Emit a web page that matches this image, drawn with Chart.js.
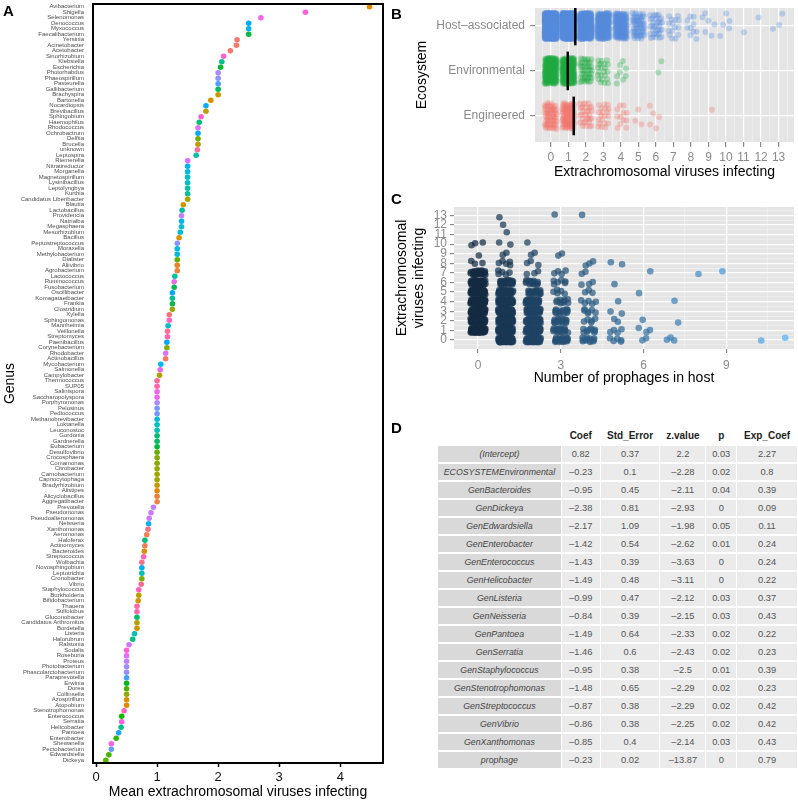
<!DOCTYPE html>
<html>
<head>
<meta charset="utf-8">
<script src="https://cdn.jsdelivr.net/npm/chart.js@4.4.1/dist/chart.umd.min.js"></script>
<style>
  body { margin: 0; background: #fff; font-family: "Liberation Sans", Arial, sans-serif; }
  #page { position: relative; width: 798px; height: 801px; overflow: hidden; }
  canvas { position: absolute; }
  .tag { position: absolute; font-weight: bold; font-size: 15px; line-height: 15px; color: #000; }
  #coefTable { position: absolute; left: 437px; top: 426px; border-collapse: separate; border-spacing: 1px 2px; font-size: 9.3px; }
  #coefTable td, #coefTable th { height: 16px; line-height: 16px; padding: 0; text-align: center; white-space: nowrap; overflow: hidden; }
  #coefTable th { font-weight: bold; color: #222; font-size: 10px; background: #fff; }
  #coefTable td { background: #ebebeb; color: #555; }
  #coefTable td.name { background: #d9d9d9; font-style: italic; color: #444; font-size: 8.8px; }
</style>
</head>
<body>
<div id="page">
  <canvas id="chartA" width="390" height="801" style="left:0;top:0"></canvas>
  <canvas id="chartB" width="413" height="185" style="left:385px;top:0"></canvas>
  <canvas id="chartC" width="413" height="207" style="left:385px;top:185px"></canvas>
  <div class="tag" style="left:3px;top:3px">A</div>
  <div class="tag" style="left:391px;top:6px">B</div>
  <div class="tag" style="left:391px;top:191px">C</div>
  <div class="tag" style="left:391px;top:420px">D</div>
  <table id="coefTable"></table>
</div>
<script>
// ---- Panel A: mean extrachromosomal viruses per genus (top to bottom)
const genera = [
  "Avibacterium", "Shigella", "Selenomonas", "Oenococcus", "Myxococcus", "Faecalibacterium",
  "Yersinia", "Acinetobacter", "Acetobacter", "Sinorhizobium", "Klebsiella", "Escherichia",
  "Photorhabdus", "Phaeospirillum", "Pasteurella", "Gallibacterium", "Brachyspira", "Bartonella",
  "Nocardiopsis", "Brevibacillus", "Sphingobium", "Haemophilus", "Rhodococcus", "Ochrobactrum",
  "Delftia", "Brucella", "unknown", "Leptospira", "Riemerella", "Nitratireductor",
  "Morganella", "Magnetospirillum", "Lysinibacillus", "Leptolyngbya", "Kurthia", "Candidatus Liberibacter",
  "Blautia", "Lactobacillus", "Providencia", "Natrialba", "Megasphaera", "Mesorhizobium",
  "Bacillus", "Peptostreptococcus", "Moraxella", "Methylobacterium", "Dialister", "Aliivibrio",
  "Agrobacterium", "Lactococcus", "Ruminococcus", "Fusobacterium", "Oscillibacter", "Komagataeibacter",
  "Frankia", "Clostridium", "Xylella", "Sphingomonas", "Mannheimia", "Veillonella",
  "Streptomyces", "Paenibacillus", "Corynebacterium", "Rhodobacter", "Actinobacillus", "Mycobacterium",
  "Salmonella", "Campylobacter", "Thermococcus", "SUP05", "Salinispora", "Saccharopolyspora",
  "Porphyromonas", "Pelosinus", "Pediococcus", "Methanobrevibacter", "Loktanella", "Leuconostoc",
  "Gordonia", "Gardnerella", "Eubacterium", "Desulfovibrio", "Crocosphaera", "Comamonas",
  "Citrobacter", "Carnobacterium", "Capnocytophaga", "Bradyrhizobium", "Alistipes", "Alicyclobacillus",
  "Aggregatibacter", "Prevotella", "Pseudomonas", "Pseudoalteromonas", "Neisseria", "Xanthomonas",
  "Aeromonas", "Haloferax", "Actinomyces", "Bacteroides", "Streptococcus", "Wolbachia",
  "Novosphingobium", "Leptotrichia", "Cronobacter", "Vibrio", "Staphylococcus", "Burkholderia",
  "Bifidobacterium", "Thauera", "Sulfolobus", "Gluconobacter", "Candidatus Arthromitus", "Bordetella",
  "Listeria", "Halorubrum", "Ralstonia", "Sodalis", "Roseburia", "Proteus",
  "Photobacterium", "Phascolarctobacterium", "Paraprevotella", "Erwinia", "Dorea", "Collinsella",
  "Azospirillum", "Atopobium", "Stenotrophomonas", "Enterococcus", "Serratia", "Helicobacter",
  "Pantoea", "Enterobacter", "Shewanella", "Pectobacterium", "Edwardsiella", "Dickeya"
];
const meanViruses = [
  4.48, 3.43, 2.70, 2.50, 2.50, 2.50,
  2.31, 2.30, 2.20, 2.09, 2.06, 2.04,
  2.00, 2.00, 2.00, 2.00, 2.00, 1.88,
  1.80, 1.80, 1.72, 1.69, 1.67, 1.67,
  1.67, 1.67, 1.66, 1.64, 1.50, 1.50,
  1.50, 1.50, 1.50, 1.50, 1.50, 1.50,
  1.43, 1.41, 1.40, 1.40, 1.40, 1.38,
  1.36, 1.33, 1.33, 1.33, 1.33, 1.33,
  1.33, 1.29, 1.28, 1.28, 1.25, 1.25,
  1.25, 1.25, 1.20, 1.20, 1.18, 1.17,
  1.17, 1.16, 1.16, 1.14, 1.14, 1.06,
  1.05, 1.04, 1.00, 1.00, 1.00, 1.00,
  1.00, 1.00, 1.00, 1.00, 1.00, 1.00,
  1.00, 1.00, 1.00, 1.00, 1.00, 1.00,
  1.00, 1.00, 1.00, 1.00, 1.00, 1.00,
  1.00, 0.94, 0.90, 0.87, 0.86, 0.85,
  0.83, 0.80, 0.80, 0.79, 0.78, 0.75,
  0.75, 0.75, 0.75, 0.74, 0.70, 0.70,
  0.69, 0.67, 0.67, 0.67, 0.67, 0.67,
  0.63, 0.60, 0.54, 0.50, 0.50, 0.50,
  0.50, 0.50, 0.50, 0.50, 0.50, 0.50,
  0.50, 0.50, 0.46, 0.42, 0.42, 0.41,
  0.37, 0.33, 0.25, 0.25, 0.21, 0.16
];
const meanTicks = [0, 1, 2, 3, 4];

// ---- Panel B: viruses per genome by ecosystem
const ecosystems = ["Engineered", "Environmental", "Host–associated"];
const virusValues = [0, 1, 2, 3, 4, 5, 6, 7, 8, 9, 10, 11, 12, 13];
const engineeredCounts = [60, 80, 30, 20, 12, 3, 5, 0, 0, 1, 0, 0, 0, 0];
const environmentalCounts = [220, 250, 45, 22, 8, 0, 2, 0, 0, 0, 0, 0, 0, 0];
const hostCounts = [900, 800, 400, 250, 150, 60, 35, 15, 10, 6, 5, 1, 1, 3];
const ecosystemMeans = [1.31, 0.97, 1.40];

// ---- Panel C: genomes by prophages (rows) and viruses 0..13 (columns)
const prophageValues = [0, 1, 2, 3, 4, 5, 6, 7, 8, 9, 10, 11];
const prophageCounts = [
  [0, 60, 60, 60, 60, 50, 40, 25, 3, 1, 3, 0, 0, 0],
  [60, 60, 60, 55, 50, 35, 25, 5, 5, 2, 2, 1, 1, 1],
  [50, 50, 45, 40, 35, 18, 14, 3, 3, 2, 1, 0, 0, 0],
  [22, 18, 16, 14, 10, 5, 6, 4, 0, 2, 0, 0, 0, 1],
  [12, 9, 5, 6, 5, 3, 3, 2, 3, 0, 0, 0, 0, 1],
  [5, 4, 2, 2, 1, 0, 1, 0, 2, 0, 0, 0, 0, 0],
  [2, 3, 1, 0, 0, 1, 0, 1, 0, 0, 0, 0, 0, 0],
  [3, 0, 1, 0, 1, 0, 0, 0, 0, 0, 0, 0, 0, 0],
  [0, 0, 0, 0, 0, 0, 0, 1, 0, 0, 0, 0, 0, 0],
  [0, 0, 0, 0, 0, 0, 0, 1, 0, 0, 0, 0, 0, 0],
  [1, 0, 0, 0, 0, 0, 0, 0, 0, 0, 0, 0, 0, 0],
  [1, 0, 0, 0, 0, 0, 0, 0, 0, 0, 0, 0, 0, 0]
];
const prophageTicks = [0, 3, 6, 9];

// ---- Panel D: model coefficients
const termNames = ["(Intercept)", "ECOSYSTEMEnvironmental", "GenBacteroides", "GenDickeya", "GenEdwardsiella",
  "GenEnterobacter", "GenEnterococcus", "GenHelicobacter", "GenListeria", "GenNeisseria", "GenPantoea",
  "GenSerratia", "GenStaphylococcus", "GenStenotrophomonas", "GenStreptococcus", "GenVibrio",
  "GenXanthomonas", "prophage"];
const coef = [0.82, -0.23, -0.95, -2.38, -2.17, -1.42, -1.43, -1.49, -0.99, -0.84, -1.49, -1.46, -0.95, -1.48, -0.87, -0.86, -0.85, -0.23];
const stdError = [0.37, 0.1, 0.45, 0.81, 1.09, 0.54, 0.39, 0.48, 0.47, 0.39, 0.64, 0.6, 0.38, 0.65, 0.38, 0.38, 0.4, 0.02];
const zValue = [2.2, -2.28, -2.11, -2.93, -1.98, -2.62, -3.63, -3.11, -2.12, -2.15, -2.33, -2.43, -2.5, -2.29, -2.29, -2.25, -2.14, -13.87];
const pValue = [0.03, 0.02, 0.04, 0, 0.05, 0.01, 0, 0, 0.03, 0.03, 0.02, 0.02, 0.01, 0.02, 0.02, 0.02, 0.03, 0];
const expCoef = [2.27, 0.8, 0.39, 0.09, 0.11, 0.24, 0.24, 0.22, 0.37, 0.43, 0.22, 0.23, 0.39, 0.23, 0.42, 0.42, 0.43, 0.79];

Chart.defaults.font.family = '"Liberation Sans", Arial, sans-serif';
Chart.defaults.animation = false;

// ggplot-like hue palette (hcl with c=100, l=65)
function hclColor(h, c, l) {
  const hr = h * Math.PI / 180;
  const U = c * Math.cos(hr), V = c * Math.sin(hr);
  const Xn = 95.047, Yn = 100, Zn = 108.883;
  const un = 4 * Xn / (Xn + 15 * Yn + 3 * Zn), vn = 9 * Yn / (Xn + 15 * Yn + 3 * Zn);
  const Y = Yn * Math.pow((l + 16) / 116, 3);
  const up = U / (13 * l) + un, vp = V / (13 * l) + vn;
  const X = Y * 9 * up / (4 * vp), Z = Y * (12 - 3 * up - 20 * vp) / (4 * vp);
  const x = X / 100, y = Y / 100, z = Z / 100;
  const lin = [
    3.2404542 * x - 1.5371385 * y - 0.4985314 * z,
    -0.9692660 * x + 1.8760108 * y + 0.0415560 * z,
    0.0556434 * x - 0.2040259 * y + 1.0572252 * z
  ];
  const rgb = lin.map(t => {
    t = t <= 0.0031308 ? 12.92 * t : 1.055 * Math.pow(t, 1 / 2.4) - 0.055;
    return Math.round(255 * Math.min(1, Math.max(0, t)));
  });
  return `rgb(${rgb[0]},${rgb[1]},${rgb[2]})`;
}

const sortedGenera = genera.slice().sort((a, b) => a.toLowerCase().localeCompare(b.toLowerCase()));
const genusColors = genera.map(g => hclColor(15 + 360 * sortedGenera.indexOf(g) / genera.length, 100, 65));

// jitter offsets in [-1, 1] from a fixed low-discrepancy sequence
let jitterStep = 0;
function jitterPoints(xBase, yBase, count, wx, wy) {
  const pts = [];
  for (let i = 0; i < count; i++) {
    jitterStep++;
    const jx = ((0.5 + jitterStep * 0.7548776662) % 1) * 2 - 1;
    const jy = ((0.5 + jitterStep * 0.5698402910) % 1) * 2 - 1;
    pts.push({ x: xBase + jx * wx, y: yBase + jy * wy });
  }
  return pts;
}

const panelBg = {
  id: "panelBg",
  beforeDraw(chart, args, opts) {
    if (!opts || !opts.color) return;
    const { ctx, chartArea: a } = chart;
    ctx.save();
    ctx.fillStyle = opts.color;
    ctx.fillRect(a.left, a.top, a.right - a.left, a.bottom - a.top);
    ctx.restore();
  }
};

const frame = {
  id: "frame",
  afterDraw(chart, args, opts) {
    if (!opts || !opts.width) return;
    const { ctx, chartArea: a } = chart;
    ctx.save();
    ctx.strokeStyle = opts.color;
    ctx.lineWidth = opts.width;
    ctx.strokeRect(a.left, a.top, a.right - a.left, a.bottom - a.top);
    ctx.restore();
  }
};

// fixed axis box sizes, no extra label padding pushing the plot area
const fixWidth = (w) => (s) => { s.width = w; s.paddingTop = 0; s.paddingBottom = 0; };
const fixHeight = (h) => (s) => { s.height = h; s.paddingLeft = 0; s.paddingRight = 0; };

const titleFont = { size: 14, lineHeight: 1.2 };
const greyText = "#8a8a8a";
const isMajor = v => Math.abs(v - Math.round(v)) < 1e-9;

// ---------- Panel A
new Chart(document.getElementById("chartA"), {
  type: "scatter",
  data: {
    datasets: [{
      data: genera.map((g, i) => ({ x: meanViruses[i], y: g })),
      backgroundColor: genusColors,
      borderWidth: 0,
      pointRadius: 2.8
    }]
  },
  options: {
    responsive: false,
    layout: { padding: { left: 0, right: 7, top: 1, bottom: 0 } },
    plugins: {
      legend: { display: false },
      tooltip: { enabled: false },
      frame: { color: "#000", width: 2 }
    },
    scales: {
      x: {
        type: "linear",
        min: -0.05,
        max: 4.7,
        afterBuildTicks: (s) => { s.ticks = meanTicks.map(v => ({ value: v })); },
        ticks: { color: "#111", font: { size: 13 }, padding: 3, maxRotation: 0 },
        grid: { drawOnChartArea: false, tickLength: 4, tickColor: "#000", tickWidth: 1.5 },
        border: { display: false },
        title: { display: true, text: "Mean extrachromosomal viruses infecting", color: "#000", font: titleFont, padding: { top: 0, bottom: 0 } },
        afterFit: fixHeight(38)
      },
      y: {
        type: "category",
        labels: genera,
        offset: true,
        ticks: { autoSkip: false, color: "#4d4d4d", font: { size: 6 }, padding: 9 },
        grid: { display: false, drawTicks: false },
        border: { display: false },
        title: { display: true, text: "Genus", color: "#000", font: titleFont, padding: { top: 1.6, bottom: 0 } },
        afterFit: fixWidth(93)
      }
    }
  },
  plugins: [panelBg, frame]
});

// ---------- Panel B
const ecoCounts = [engineeredCounts, environmentalCounts, hostCounts];
const ecoColors = ["rgba(242,116,106,0.32)", "rgba(30,172,64,0.32)", "rgba(88,140,222,0.32)"];
const datasetsB = [];
ecosystems.forEach((name, e) => {
  datasetsB.push({
    type: "line",
    order: 0,
    data: [{ x: ecosystemMeans[e], y: e + 1 - 0.43 }, { x: ecosystemMeans[e], y: e + 1 + 0.43 }],
    borderColor: "#000",
    borderWidth: 2.5,
    pointRadius: 0
  });
});
ecosystems.forEach((name, e) => {
  let pts = [];
  virusValues.forEach((v, k) => { pts = pts.concat(jitterPoints(v, e + 1, ecoCounts[e][k], 0.35, 0.29)); });
  datasetsB.push({ label: name, order: 1, data: pts, backgroundColor: ecoColors[e], borderWidth: 0, pointRadius: 3 });
});

new Chart(document.getElementById("chartB"), {
  type: "scatter",
  data: { datasets: datasetsB },
  options: {
    responsive: false,
    layout: { padding: { left: 0, right: 0, top: 8, bottom: 0 } },
    plugins: { legend: { display: false }, tooltip: { enabled: false }, panelBg: { color: "#e5e5e5" } },
    scales: {
      x: {
        type: "linear",
        min: -0.9,
        max: 13.88,
        afterBuildTicks: (s) => {
          const t = [];
          for (let v = -0.5; v <= 13.5; v += 0.5) t.push({ value: v });
          s.ticks = t;
        },
        ticks: { autoSkip: false, maxRotation: 0, color: greyText, font: { size: 12 }, padding: 3,
          callback: (v) => isMajor(v) && v >= 0 ? String(v) : "" },
        grid: {
          color: (c) => isMajor(c.tick.value) ? "#ffffff" : "rgba(255,255,255,0.55)",
          lineWidth: (c) => isMajor(c.tick.value) ? 1.2 : 0.6,
          tickColor: (c) => isMajor(c.tick.value) && c.tick.value >= 0 ? greyText : "rgba(0,0,0,0)",
          tickLength: 5
        },
        border: { display: false },
        title: { display: true, text: "Extrachromosomal viruses infecting", color: "#000", font: titleFont, padding: { top: 0, bottom: 4.6 } },
        afterFit: fixHeight(43)
      },
      y: {
        type: "linear",
        min: 0.42,
        max: 3.4,
        afterBuildTicks: (s) => { s.ticks = [1, 2, 3].map(v => ({ value: v })); },
        ticks: { color: greyText, font: { size: 12 }, padding: 5, callback: (v) => ecosystems[v - 1] },
        grid: { color: "#ffffff", lineWidth: 1.2, tickColor: greyText, tickLength: 5 },
        border: { display: false },
        title: { display: true, text: "Ecosystem", color: "#000", font: titleFont, padding: { top: 28.3, bottom: 0 } },
        afterFit: fixWidth(150)
      }
    }
  },
  plugins: [panelBg]
});

// ---------- Panel C
const lowBlue = [19, 43, 67], highBlue = [86, 177, 247];
const maxProphage = prophageValues[prophageValues.length - 1];
function prophageColor(p) {
  const t = p / maxProphage;
  const c = lowBlue.map((lo, i) => Math.round(lo + (highBlue[i] - lo) * t));
  return `rgba(${c[0]},${c[1]},${c[2]},0.72)`;
}
const datasetsC = prophageValues.map((p, r) => {
  let pts = [];
  virusValues.forEach((v, k) => { pts = pts.concat(jitterPoints(p, v, prophageCounts[r][k], 0.27, 0.25)); });
  return { label: "prophage " + p, data: pts, backgroundColor: prophageColor(p), borderWidth: 0, pointRadius: 3.3 };
});

new Chart(document.getElementById("chartC"), {
  type: "scatter",
  data: { datasets: datasetsC },
  options: {
    responsive: false,
    layout: { padding: { left: 0, right: 0, top: 22, bottom: 0 } },
    plugins: { legend: { display: false }, tooltip: { enabled: false }, panelBg: { color: "#e5e5e5" } },
    scales: {
      x: {
        type: "linear",
        min: -0.87,
        max: 11.45,
        afterBuildTicks: (s) => { s.ticks = [0, 1.5, 3, 4.5, 6, 7.5, 9, 10.5].map(v => ({ value: v })); },
        ticks: { autoSkip: false, maxRotation: 0, color: greyText, font: { size: 12 }, padding: 5,
          callback: (v) => prophageTicks.includes(v) ? String(v) : "" },
        grid: {
          color: (c) => prophageTicks.includes(c.tick.value) ? "#ffffff" : "rgba(255,255,255,0.55)",
          lineWidth: (c) => prophageTicks.includes(c.tick.value) ? 1.2 : 0.6,
          tickColor: (c) => prophageTicks.includes(c.tick.value) ? greyText : "rgba(0,0,0,0)",
          tickLength: 4
        },
        border: { display: false },
        title: { display: true, text: "Number of prophages in host", color: "#000", font: titleFont, padding: { top: 0, bottom: 5.3 } },
        afterFit: fixHeight(43)
      },
      y: {
        type: "linear",
        min: -0.94,
        max: 13.87,
        afterBuildTicks: (s) => {
          const t = [];
          for (let v = -0.5; v <= 13.5; v += 0.5) t.push({ value: v });
          s.ticks = t;
        },
        ticks: { autoSkip: false, color: greyText, font: { size: 12 }, padding: 3,
          callback: (v) => isMajor(v) && v >= 0 ? String(v) : "" },
        grid: {
          color: (c) => isMajor(c.tick.value) ? "#ffffff" : "rgba(255,255,255,0.55)",
          lineWidth: (c) => isMajor(c.tick.value) ? 1.2 : 0.6,
          tickColor: (c) => isMajor(c.tick.value) && c.tick.value >= 0 ? greyText : "rgba(0,0,0,0)",
          tickLength: 4
        },
        border: { display: false },
        title: { display: true, text: ["Extrachromosomal", "viruses infecting"], color: "#000", font: titleFont, padding: { top: 8.6, bottom: 0 } },
        afterFit: fixWidth(69)
      }
    }
  },
  plugins: [panelBg]
});

// ---------- Panel D table
const fmt = (v) => String(v).replace("-", "–");
const table = document.getElementById("coefTable");
const colWidths = [123, 38, 59, 45, 30, 60];
const header = ["", "Coef", "Std_Error", "z.value", "p", "Exp_Coef"];
let html = "<tr>" + header.map((h, i) => `<th style="width:${colWidths[i]}px">${h}</th>`).join("") + "</tr>";
termNames.forEach((name, i) => {
  html += `<tr><td class="name">${name}</td><td>${fmt(coef[i])}</td><td>${fmt(stdError[i])}</td>` +
    `<td>${fmt(zValue[i])}</td><td>${fmt(pValue[i])}</td><td>${fmt(expCoef[i])}</td></tr>`;
});
table.innerHTML = html;
</script>
</body>
</html>
